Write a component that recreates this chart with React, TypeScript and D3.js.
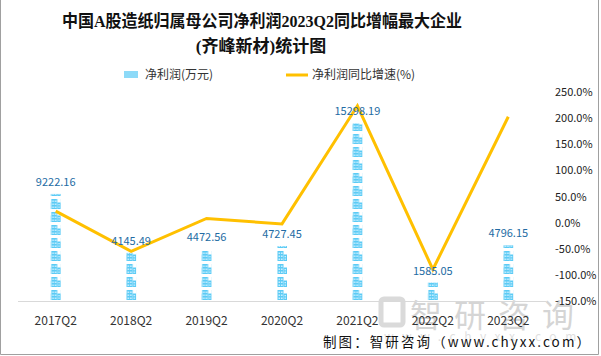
import React from "react";
import * as d3 from "d3";

const categories = ["2017Q2", "2018Q2", "2019Q2", "2020Q2", "2021Q2", "2022Q2", "2023Q2"];
const profit = [9222.16, 4145.49, 4472.56, 4727.45, 15298.19, 1585.05, 4796.15];
const growth = [22.0, -55.0, 7.9, -2.5, 223.6, -89.6, 202.6];
const rightTicks = [250, 200, 150, 100, 50, 0, -50, -100, -150];

const W = 601;
const H = 356;
const left = 18;
const right = 546;
const top = 92;
const bottom = 301;

export default function App() {
  const x = d3.scaleBand<string>().domain(categories).range([left, right]).padding(0);
  const yL = d3.scaleLinear().domain([0, 18000]).range([bottom, top]);
  const yR = d3.scaleLinear().domain([-150, 250]).range([bottom, top]);
  const cx = (c: string) => (x(c) as number) + x.bandwidth() / 2;
  const line = d3
    .line<number>()
    .x((_, i) => cx(categories[i]))
    .y((d) => yR(d));
  const iconW = 10;
  const cellH = 13;
  const blue = "#5ccbf5";
  const hl = "#c9efff";

  const Icon = ({ ox, oy }: { ox: number; oy: number }) => (
    <g transform={`translate(${ox},${oy})`}>
      <rect x={0.5} y={0} width={6} height={10} fill={blue} />
      <rect x={6.5} y={3.5} width={3.5} height={6.5} fill={blue} />
      <rect x={1.5} y={1.5} width={1.6} height={1.5} fill={hl} />
      <rect x={4} y={1.5} width={1.6} height={1.5} fill={hl} />
      <rect x={1.5} y={4.5} width={1.6} height={1.5} fill={hl} />
      <rect x={4} y={4.5} width={1.6} height={1.5} fill={hl} />
      <rect x={1.5} y={7.5} width={1.6} height={1.5} fill={hl} />
      <rect x={4} y={7.5} width={1.6} height={1.5} fill={hl} />
      <rect x={7.5} y={5} width={1.5} height={1.3} fill={hl} />
      <rect x={7.5} y={7.5} width={1.5} height={1.3} fill={hl} />
    </g>
  );

  return (
    <svg
      width={W}
      height={H}
      style={{ position: "absolute", left: 0, top: 0, background: "#fff" }}
      fontFamily="'Noto Sans CJK SC', 'Noto Sans', sans-serif"
    >
      <defs>
        {categories.map((c, i) => (
          <pattern
            key={c}
            id={`pat${i}`}
            patternUnits="userSpaceOnUse"
            x={cx(c) - iconW / 2}
            y={bottom}
            width={iconW}
            height={cellH}
          >
            <Icon ox={0} oy={cellH - 11} />
          </pattern>
        ))}
      </defs>
      <rect x={0} y={0} width={W} height={H} fill="#fff" />
      {/* border */}
      <path d={`M0.5,0 V354.5 H598.5 V0`} fill="none" stroke="#a0a0a0" strokeWidth={1} />

      {/* title */}
      <text
        x={262}
        y={27}
        textAnchor="middle"
        fontSize={17}
        fontWeight="bold"
        fill="#111"
        textLength={400}
        lengthAdjust="spacingAndGlyphs"
        fontFamily="'Liberation Serif', 'Noto Sans CJK SC', serif"
      >
        中国A股造纸归属母公司净利润2023Q2同比增幅最大企业
      </text>
      <text
        x={261}
        y={52}
        textAnchor="middle"
        fontSize={17}
        fontWeight="bold"
        fill="#111"
        fontFamily="'Liberation Serif', 'Noto Sans CJK SC', serif"
      >
        (齐峰新材)统计图
      </text>

      {/* legend */}
      <rect x={124} y={71} width={14} height={7} fill={blue} opacity={0.7} />
      <text x={145} y={79} fontSize={12} fill="#333">净利润(万元)</text>
      <line x1={286} x2={308} y1={75} y2={75} stroke="#ffc000" strokeWidth={3} />
      <text x={312} y={79} fontSize={12} fill="#333">净利润同比增速(%)</text>

      {/* watermark */}
      <g opacity={0.3}>
        <rect x={381} y={299} width={22} height={26} rx={3} fill="none" stroke="#888" strokeWidth={5} />
        <text x={410} y={327} fontSize={32} fill="#777" letterSpacing={12}>
          智研咨询
        </text>
        <text x={384} y={341} fontSize={12} fill="#999" letterSpacing={8.5}>
          www.chyxx.com
        </text>
      </g>

      {/* bars */}
      {categories.map((c, i) => (
        <rect
          key={c}
          x={cx(c) - iconW / 2}
          y={yL(profit[i])}
          width={iconW}
          height={bottom - yL(profit[i])}
          fill={`url(#pat${i})`}
        />
      ))}

      {/* axis line */}
      <line x1={left} x2={right} y1={bottom + 0.5} y2={bottom + 0.5} stroke="#d9d9d9" strokeWidth={1} />

      {/* x labels */}
      {categories.map((c) => (
        <text key={c} x={cx(c)} y={325} textAnchor="middle" fontSize={12} fill="#333">
          {c}
        </text>
      ))}

      {/* right axis labels */}
      {rightTicks.map((t) => (
        <text key={t} x={555} y={yR(t) + 4} fontSize={11} fill="#222">
          {t.toFixed(1)}%
        </text>
      ))}

      {/* line */}
      <path d={line(growth) as string} fill="none" stroke="#ffc000" strokeWidth={3} strokeLinejoin="miter" />

      {/* data labels */}
      {categories.map((c, i) => (
        <text
          key={c}
          x={cx(c)}
          y={yL(profit[i]) - 8}
          textAnchor="middle"
          fontSize={11}
          fill="#236ba3"
        >
          {profit[i].toFixed(2)}
        </text>
      ))}

      {/* source */}
      <text
        x={590}
        y={347}
        textAnchor="end"
        fontSize={13.5}
        fill="#111"
        textLength={267}
        fontFamily="'Noto Sans CJK SC', 'DejaVu Sans Mono', monospace"
      >
        制图：智研咨询（www.chyxx.com）
      </text>
    </svg>
  );
}
